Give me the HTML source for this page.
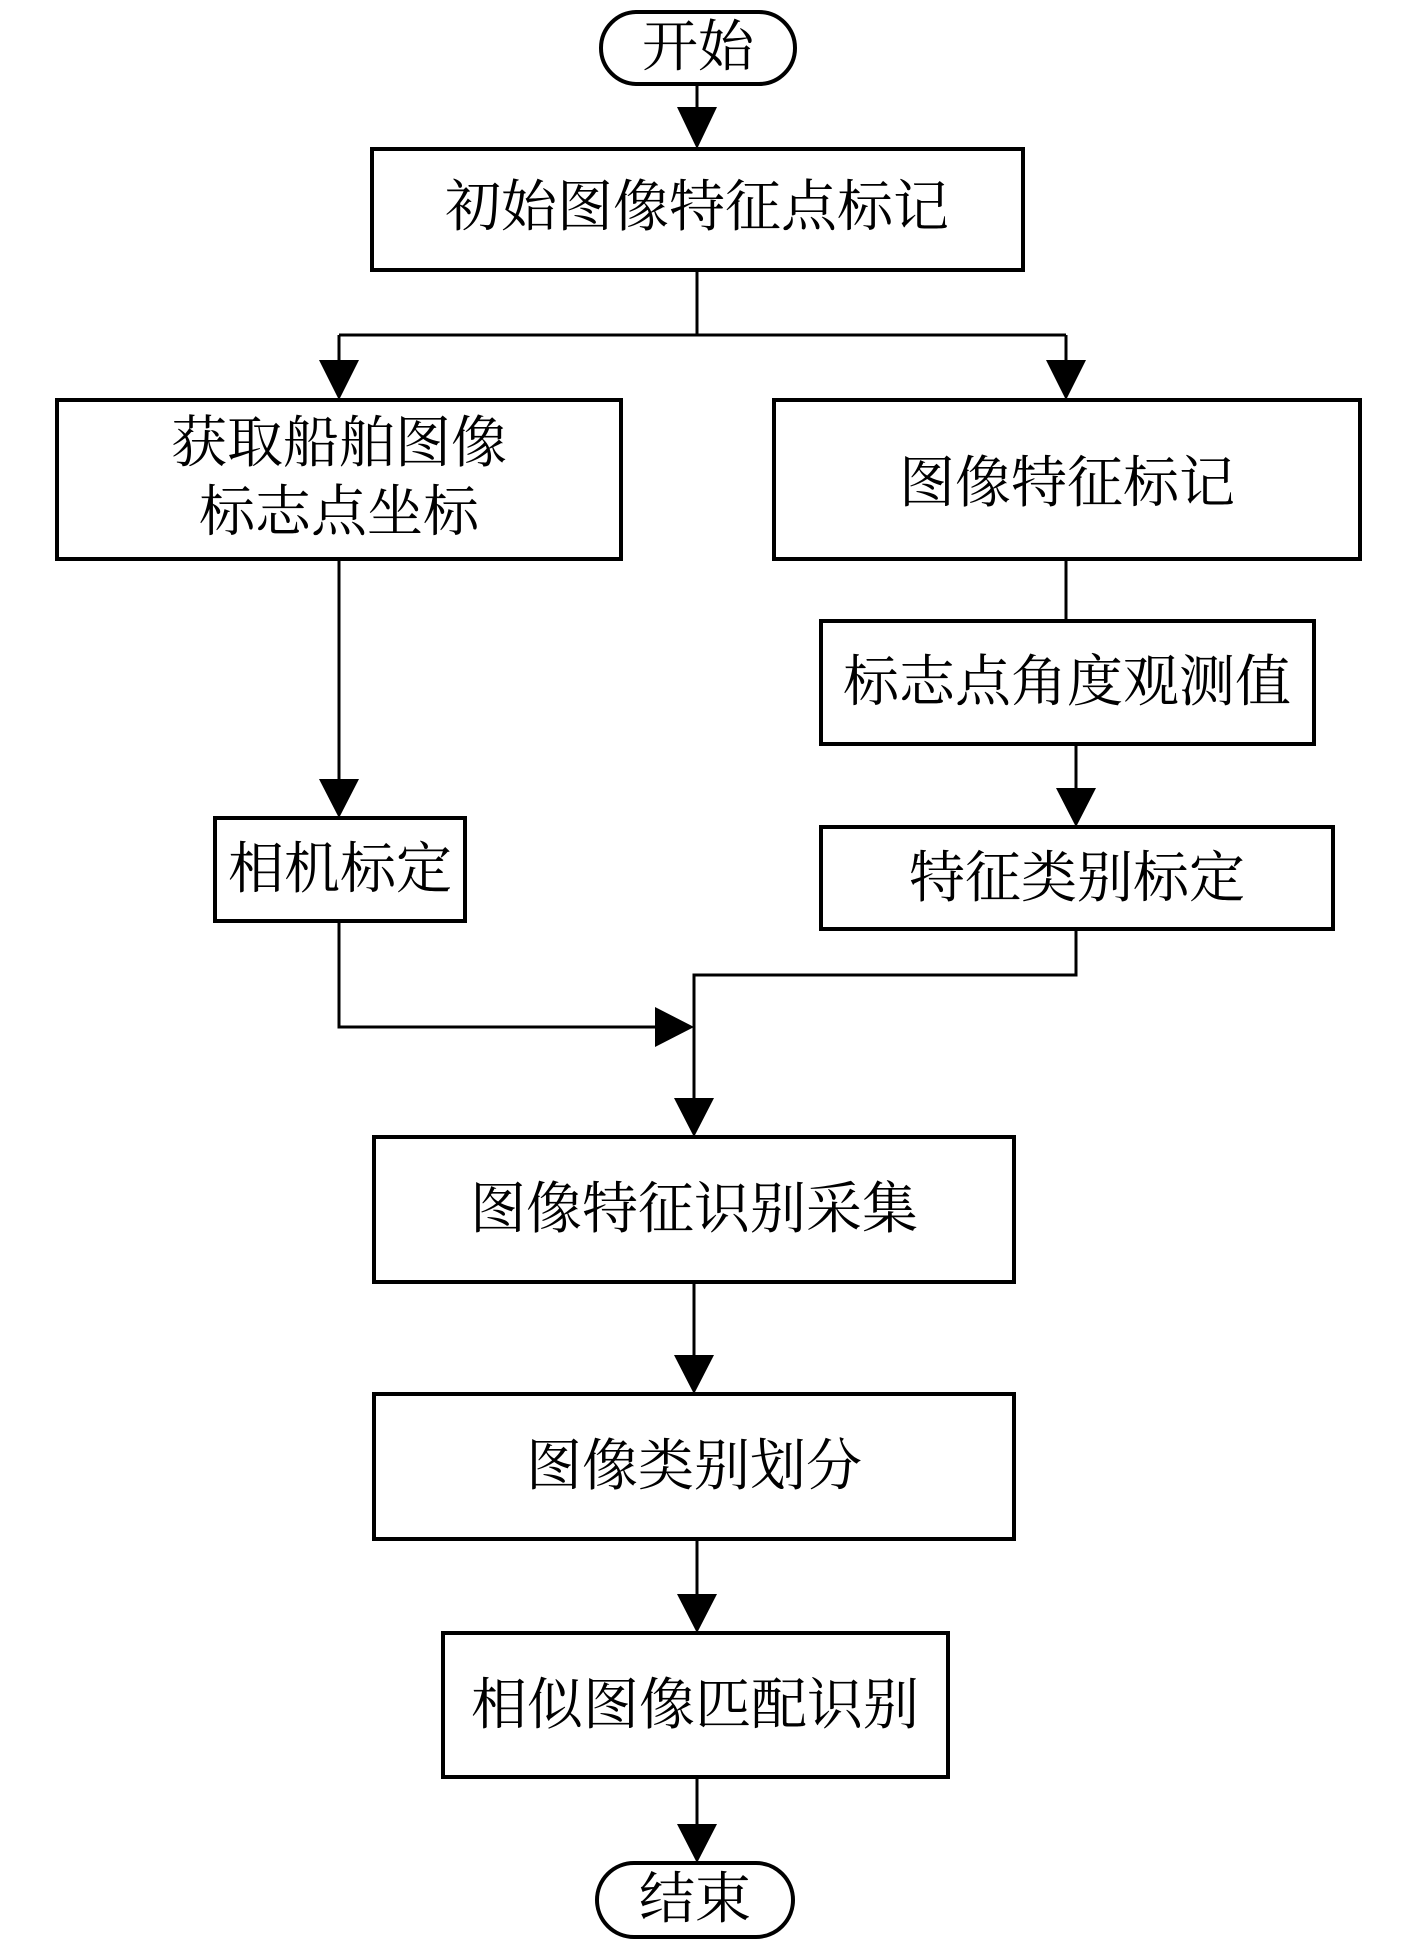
<!DOCTYPE html>
<html><head><meta charset="utf-8"><style>
html,body{margin:0;padding:0;background:#fff}
svg{display:block}
text{font-family:"Liberation Serif","Noto Serif CJK SC",serif;font-size:56px;fill:#000;text-anchor:middle;dominant-baseline:central}
</style></head><body>
<svg width="1417" height="1942" viewBox="0 0 1417 1942" xmlns="http://www.w3.org/2000/svg">
<g fill="none" stroke="#000" stroke-width="4">
<rect x="601" y="12" width="194" height="72" rx="36"/>
<rect x="372" y="149" width="651" height="121"/>
<rect x="57" y="400" width="564" height="159"/>
<rect x="774" y="400" width="586" height="159"/>
<rect x="215" y="818" width="250" height="103"/>
<rect x="821" y="621" width="493" height="123"/>
<rect x="821" y="827" width="512" height="102"/>
<rect x="374" y="1137" width="640" height="145"/>
<rect x="374" y="1394" width="640" height="145"/>
<rect x="443" y="1633" width="505" height="144"/>
<rect x="597" y="1863" width="196" height="74" rx="37"/>
</g>
<g fill="none" stroke="#000" stroke-width="3">
<path d="M697 84V115"/>
<path d="M697 270V335M339 335H1066M339 335V365M1066 335V365"/>
<path d="M339 559V785"/>
<path d="M1066 559V621"/>
<path d="M1076 744V795"/>
<path d="M1076 929V975H694V1100"/>
<path d="M339 921V1027H660"/>
<path d="M694 1282V1355"/>
<path d="M697 1539V1598"/>
<path d="M697 1777V1825"/>
</g>
<g fill="#000">
<polygon points="677,107 717,107 697,149"/>
<polygon points="319,360 359,360 339,400"/>
<polygon points="1046,360 1086,360 1066,400"/>
<polygon points="319,779 359,779 339,818"/>
<polygon points="1056,788 1096,788 1076,827"/>
<polygon points="674,1098 714,1098 694,1137"/>
<polygon points="655,1007 655,1047 694,1027"/>
<polygon points="674,1355 714,1355 694,1394"/>
<polygon points="677,1594 717,1594 697,1633"/>
<polygon points="677,1824 717,1824 697,1863"/>
</g>
<text x="698" y="48">开始</text>
<text x="697" y="208">初始图像特征点标记</text>
<text x="339" y="444">获取船舶图像</text>
<text x="339" y="513">标志点坐标</text>
<text x="1067" y="484">图像特征标记</text>
<text x="340" y="870">相机标定</text>
<text x="1067" y="683">标志点角度观测值</text>
<text x="1077" y="879">特征类别标定</text>
<text x="694" y="1210">图像特征识别采集</text>
<text x="694" y="1467">图像类别划分</text>
<text x="695" y="1706">相似图像匹配识别</text>
<text x="695" y="1900">结束</text>
</svg>
</body></html>
